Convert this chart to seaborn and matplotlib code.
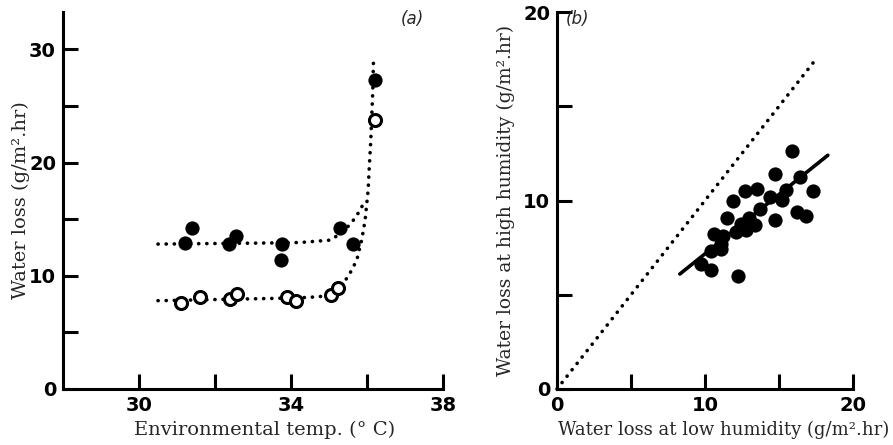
import matplotlib
matplotlib.use("Agg")
import matplotlib.pyplot as plt
import seaborn as sns
import pandas as pd

# ---------------- data: panel (a) ----------------
temp_high = [31.2, 31.4, 32.36, 32.54, 33.73, 33.76, 35.3, 35.63, 36.21]
loss_high = [12.93, 14.19, 12.78, 13.5, 11.4, 12.83, 14.25, 12.84, 27.3]
temp_low = [31.1, 31.6, 32.4, 32.57, 33.9, 34.12, 35.04, 35.23, 36.21]
loss_low = [7.64, 8.17, 7.93, 8.37, 8.13, 7.75, 8.34, 8.9, 23.8]

curve_high_x = [30.5, 32.0, 33.5, 34.24, 35.03, 35.38, 35.64, 35.82, 35.95]
curve_high_y = [12.8, 12.85, 12.9, 12.94, 13.15, 13.88, 14.91, 15.79, 16.7]
curve_low_x = [30.5, 32.0, 33.5, 34.24, 34.76, 35.29, 35.55, 35.73, 35.86, 35.95,
               36.03, 36.06, 36.10, 36.12, 36.15, 36.17]
curve_low_y = [7.8, 7.9, 8.0, 8.06, 8.15, 8.89, 10.21, 11.38, 13.15, 14.91,
               17.56, 19.62, 21.97, 23.74, 26.1, 29.0]

# ---------------- data: panel (b) ----------------
low_hum = [15.9, 14.7, 16.4, 17.3, 12.7, 13.5, 15.45, 11.9, 14.4, 15.2, 13.7, 16.2,
           16.8, 11.5, 14.75, 13.0, 12.4, 13.4, 12.75, 12.1, 10.6, 11.2, 11.1, 10.4,
           11.1, 9.7, 10.4, 12.2]
high_hum = [12.65, 11.43, 11.23, 10.48, 10.53, 10.6, 10.58, 10.0, 10.2, 10.05, 9.56, 9.37,
            9.2, 9.08, 8.94, 9.08, 8.76, 8.68, 8.41, 8.32, 8.24, 8.11, 7.67, 7.32,
            7.41, 6.61, 6.31, 5.98]
fit_x = [8.3, 18.3]
fit_y = [6.1, 12.4]
equal_x = [0.0, 17.6]
equal_y = [0.0, 17.6]

sns.set_style("white")
plt.rcParams["font.family"] = ["DejaVu Sans"]

fig = plt.figure(figsize=(8.93, 4.45), dpi=100)
axA = fig.add_axes([63 / 893, 56 / 445, 380 / 893, 377 / 445])
axB = fig.add_axes([557 / 893, 56 / 445, 296 / 893, 377 / 445])

dot_style = dict(linestyle=(0, (0.05, 2.2)), dash_capstyle="round", linewidth=2.6, color="black")

# panel (a)
sns.lineplot(x=curve_high_x, y=curve_high_y, ax=axA, sort=False, **dot_style)
sns.lineplot(x=curve_low_x, y=curve_low_y, ax=axA, sort=False, **dot_style)
sns.scatterplot(x=temp_high, y=loss_high, ax=axA, s=105, color="black",
                edgecolor="black", linewidth=0, zorder=3)
sns.scatterplot(x=temp_low, y=loss_low, ax=axA, s=75, facecolor="white",
                edgecolor="black", linewidth=2.2, zorder=3)
axA.set_xlim(28, 38)
axA.set_ylim(0, 33.3)
axA.set_xticks([30, 32, 34, 36, 38])
axA.set_xticklabels(["30", "", "34", "", "38"])
axA.set_yticks([0, 5, 10, 15, 20, 25, 30])
axA.set_yticklabels(["0", "", "10", "", "20", "", "30"])
axA.set_xlabel("Environmental temp. (° C)", family="DejaVu Serif", fontsize=14, labelpad=4)
axA.set_ylabel("Water loss (g/m².hr)", family="DejaVu Serif", fontsize=14, labelpad=-1)
axA.xaxis.set_label_coords(0.53, -0.085)
axA.text(0.92, 1.005, "(a)", transform=axA.transAxes, fontsize=12, style="italic",
         ha="center", va="top")

# panel (b)
sns.lineplot(x=equal_x, y=equal_y, ax=axB, **dot_style)
sns.lineplot(x=fit_x, y=fit_y, ax=axB, color="black", linewidth=2.6)
sns.scatterplot(x=low_hum, y=high_hum, ax=axB, s=105, color="black",
                edgecolor="black", linewidth=0, zorder=3)
axB.set_xlim(0, 20)
axB.set_ylim(0, 20)
axB.set_xticks([0, 5, 10, 15, 20])
axB.set_xticklabels(["0", "", "10", "", "20"])
axB.set_yticks([0, 5, 10, 15, 20])
axB.set_yticklabels(["0", "", "10", "", "20"])
axB.set_xlabel("Water loss at low humidity (g/m².hr)", family="DejaVu Serif", fontsize=13, labelpad=4)
axB.set_ylabel("Water loss at high humidity (g/m².hr)", family="DejaVu Serif", fontsize=13.5, labelpad=6)
axB.xaxis.set_label_coords(0.562, -0.085)
axB.text(0.07, 1.005, "(b)", transform=axB.transAxes, fontsize=12, style="italic",
         ha="center", va="top")

for ax in (axA, axB):
    for side in ("top", "right"):
        ax.spines[side].set_visible(False)
    for side in ("left", "bottom"):
        ax.spines[side].set_linewidth(2.2)
        ax.spines[side].set_color("black")
    ax.tick_params(direction="in", length=11, width=2.2, colors="black",
                   labelsize=14, pad=5, bottom=True, left=True, top=False, right=False)
    for lab in ax.get_xticklabels() + ax.get_yticklabels():
        lab.set_fontweight("bold")
    ax.set_facecolor("white")
    for coll in ax.collections:
        coll.set_clip_on(False)
    for line in ax.lines:
        line.set_clip_on(False)

fig.savefig("out.png", dpi=100, facecolor="white")
